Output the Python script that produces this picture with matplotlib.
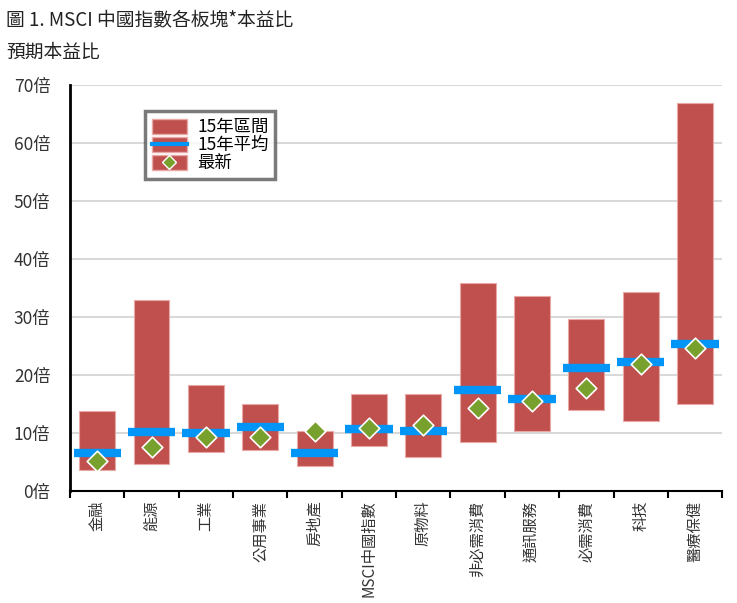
import matplotlib
matplotlib.use("Agg")
import matplotlib.pyplot as plt
from matplotlib.patches import Patch
from matplotlib.lines import Line2D

plt.rcParams["font.family"] = ["Noto Sans CJK TC", "DejaVu Sans"]

sectors = ["金融", "能源", "工業", "公用事業", "房地產", "MSCI中國指數", "原物料",
           "非必需消費", "通訊服務", "必需消費", "科技", "醫療保健"]
range_low = [3.6, 4.7, 6.7, 7.1, 4.3, 7.8, 5.9, 8.4, 10.3, 14.0, 12.1, 15.0]
range_high = [13.8, 32.9, 18.3, 15.0, 10.3, 16.7, 16.7, 35.9, 33.6, 29.7, 34.3, 66.9]
avg_15y = [6.6, 10.2, 10.0, 11.0, 6.6, 10.7, 10.3, 17.4, 15.9, 21.2, 22.2, 25.3]
latest = [5.2, 7.6, 9.3, 9.3, 10.3, 10.9, 11.4, 14.3, 15.5, 17.8, 21.9, 24.7]
yticks = [0, 10, 20, 30, 40, 50, 60, 70]

RED = "#C0504D"
BLUE = "#0095F6"
GREEN = "#77A02D"


def main():
    fig = plt.figure(figsize=(7.37, 6.03), dpi=100)
    ax = fig.add_axes([0.095, 0.186, 0.885, 0.673])

    x = list(range(len(sectors)))
    heights = [h - l for h, l in zip(range_high, range_low)]
    ax.bar(x, heights, bottom=range_low, width=0.66, color=RED,
           edgecolor="#E8A8A6", linewidth=0.8, zorder=2)
    ax.hlines(avg_15y, [i - 0.435 for i in x], [i + 0.435 for i in x],
              color=BLUE, linewidth=6, zorder=3)
    ax.scatter(x, latest, marker="D", s=110, color=GREEN,
               edgecolor="white", linewidth=1.2, zorder=4)

    ax.set_xlim(-0.5, len(sectors) - 0.5)
    ax.set_ylim(0, 70)
    ax.set_yticks(yticks)
    ax.set_yticklabels([f"{v}倍" for v in yticks], fontsize=12.5, color="#333333")
    ax.tick_params(axis="y", length=0, pad=14)
    ax.yaxis.grid(True, color="#D9D9D9", linewidth=1.5, zorder=0)
    ax.set_axisbelow(True)

    ax.set_xticks(x)
    ax.set_xticklabels(sectors, rotation=90, fontsize=11, color="#333333",
                       va="top")
    ax.set_xticks([i - 0.5 for i in range(len(sectors) + 1)], minor=True)
    ax.tick_params(axis="x", which="major", length=0, pad=7)
    ax.tick_params(axis="x", which="minor", length=5, width=1.5, direction="out")

    for side in ["top", "right"]:
        ax.spines[side].set_visible(False)
    ax.spines["left"].set_linewidth(2)
    ax.spines["bottom"].set_linewidth(1.5)

    handles = [
        Patch(facecolor=RED, edgecolor="#E8A8A6"),
        (Patch(facecolor=RED, edgecolor="#E8A8A6"), Line2D([], [], color=BLUE, linewidth=3)),
        (Patch(facecolor=RED, edgecolor="#E8A8A6"),
         Line2D([], [], marker="D", linestyle="none", markersize=7,
                markerfacecolor=GREEN, markeredgecolor="white")),
    ]
    leg = ax.legend(handles, ["15年區間", "15年平均", "最新"], loc="upper left",
                    bbox_to_anchor=(0.115, 0.935), fontsize=12.5, frameon=True,
                    fancybox=False, handlelength=2.0, handleheight=0.9,
                    labelspacing=0.0, borderpad=0.4, handletextpad=0.6,
                    borderaxespad=0)
    leg.get_frame().set_edgecolor("#595959")
    leg.get_frame().set_linewidth(2.5)

    fig.text(0.008, 0.966, "圖 1. MSCI 中國指數各板塊*本益比", fontsize=13.5,
             va="center", color="#222222")
    fig.text(0.008, 0.913, "預期本益比", fontsize=13.5, va="center", color="#222222")

    fig.savefig("out.png", dpi=100)
    plt.close(fig)


if __name__ == "__main__":
    main()
